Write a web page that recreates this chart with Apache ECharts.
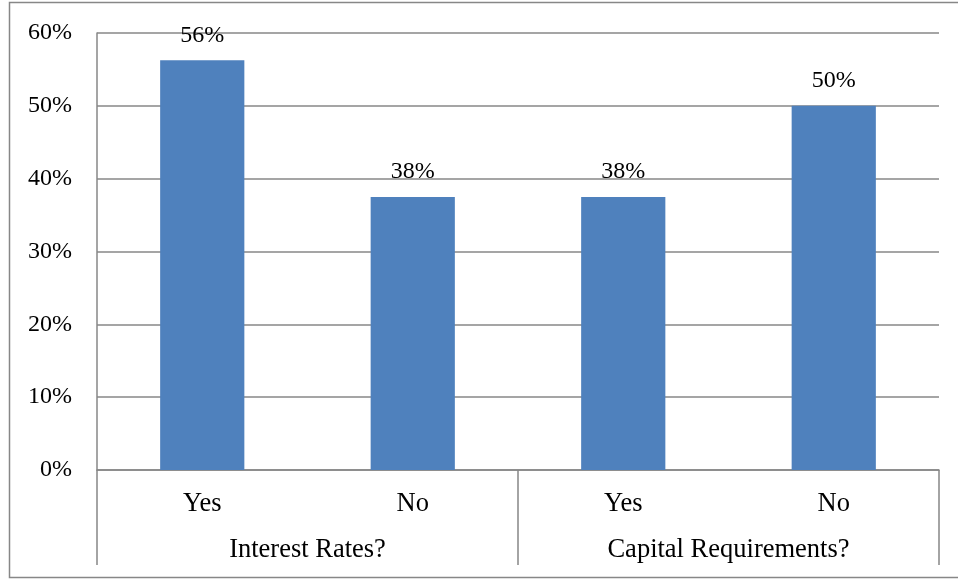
<!DOCTYPE html>
<html><head><meta charset="utf-8">
<script src="https://cdn.jsdelivr.net/npm/echarts@6/dist/echarts.min.js"></script>
<style>html,body{margin:0;padding:0;background:#fff}#c{width:958px;height:579px}</style>
</head><body><div id="c"></div>
<script>
const subCategories = ['Yes', 'No', 'Yes', 'No'];
const groupCategories = ['Interest Rates?', 'Capital Requirements?'];
const values = [0.5625, 0.375, 0.375, 0.5];
const yTicks = [0, 0.1, 0.2, 0.3, 0.4, 0.5, 0.6];

const chart = echarts.init(document.getElementById('c'), null, {renderer: 'canvas'});
const font = '"Liberation Serif", "Times New Roman", serif';
const gray = '#878787';
chart.setOption({
  animation: false,
  textStyle: {fontFamily: font},
  graphic: [{
    type: 'polyline', silent: true, z: 100,
    shape: {points: [[970, 2.5], [9.5, 2.5], [9.5, 577.5], [970, 577.5]]},
    style: {stroke: gray, lineWidth: 1.5, fill: null}
  }],
  grid: {left: 97, right: 19, top: 33, bottom: 109, containLabel: false},
  xAxis: [{
    type: 'category', data: subCategories, position: 'bottom',
    axisLine: {show: true, lineStyle: {color: gray, width: 1.5}},
    axisTick: {show: false},
    axisLabel: {color: '#000', fontSize: 26.5, fontFamily: font, margin: 21}
  }, {
    type: 'category', data: groupCategories, position: 'bottom',
    axisLine: {show: false},
    axisTick: {show: true, length: 95, lineStyle: {color: gray, width: 1.5}},
    axisLabel: {color: '#000', fontSize: 26.5, fontFamily: font, margin: 67}
  }],
  yAxis: {
    type: 'value', min: 0, max: 0.6, interval: 0.1,
    axisLine: {show: true, lineStyle: {color: gray, width: 1.5}},
    axisTick: {show: false},
    splitLine: {lineStyle: {color: gray, width: 1.5}},
    axisLabel: {color: '#000', fontSize: 24, fontFamily: font, margin: 25,
      formatter: v => Math.round(v * 100) + '%'}
  },
  series: [{
    type: 'bar', data: values, xAxisIndex: 0, barWidth: '40%',
    itemStyle: {color: '#4F81BD'},
    label: {show: true, position: 'top', distance: 13, color: '#000', fontSize: 24, fontFamily: font,
      formatter: p => Math.round(p.value * 100) + '%'}
  }]
});
</script></body></html>
